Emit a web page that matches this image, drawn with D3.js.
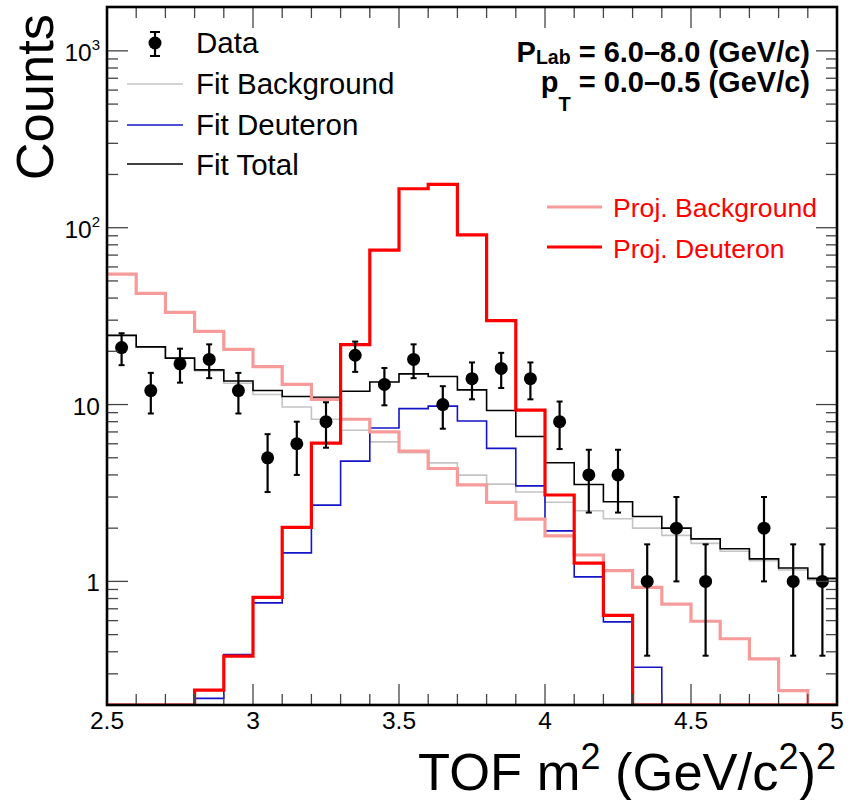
<!DOCTYPE html>
<html><head><meta charset="utf-8">
<script src="https://cdn.jsdelivr.net/npm/d3@7"></script>
<style>
body{margin:0;background:#fff}
svg{display:block}
text{font-family:"Liberation Sans",Arial,Helvetica,sans-serif}
</style>
</head><body>
<svg id="chart" width="854" height="800"></svg>
<script>
// ---- data ----
const binCenters = [2.55,2.65,2.75,2.85,2.95,3.05,3.15,3.25,3.35,3.45,3.55,3.65,3.75,3.85,3.95,4.05,4.15,4.25,4.35,4.45,4.55,4.65,4.75,4.85,4.95];
const binWidth = 0.1;
const dataCounts = [21,12,17,18,12,5,6,8,19,13,18,10,14,16,14,8,4,4,1,2,1,0,2,1,1];
const dataErrors = [4.3,3.1,3.7,3.9,3.1,1.8,2.0,2.3,3.7,3.1,3.9,2.7,3.3,3.6,3.3,2.4,1.55,1.55,0.62,1.0,0.62,0,1.0,0.62,0.62];
const fitBackground = [24.6,21.2,18.3,15.5,13.2,11.4,9.68,8.26,7.16,6.15,5.35,4.68,3.99,3.55,3.2,2.8,2.51,2.26,2.0,1.82,1.64,1.48,1.31,1.16,1.02];
const fitDeuteron = [0,0,0,0.218,0.386,0.756,1.45,2.70,4.79,7.37,9.48,9.8,8.07,5.65,3.47,1.93,1.06,0.59,0.327,0,0,0,0,0,0];
const fitTotal = [24.6,21.2,18.3,15.7,13.6,12.0,11.1,11.0,11.9,13.4,14.9,14.4,12.1,9.25,6.6,4.69,3.53,2.82,2.33,2.0,1.74,1.53,1.34,1.19,1.04];
const projBackground = [54.6,42.5,33.2,25.9,20.5,16.4,13.0,10.7,8.26,7.0,5.45,4.35,3.51,2.80,2.25,1.81,1.41,1.15,0.925,0.743,0.595,0.474,0.365,0.241,0.19];
const projDeuteron = [0,0,0,0.243,0.378,0.813,2.02,6.05,21.8,74.6,166,176,91,29.8,9.3,3.08,1.27,0.643,0,0,0,0,0,0,0];
const xTickValues = [2.5,3,3.5,4,4.5,5];
const xTickLabels = ["2.5","3","3.5","4","4.5","5"];
const yTickValues = [1,10,100,1000];
const yTickBase = ["1","10","10","10"];
const yTickExp = ["","","2","3"];
const xDomain = [2.5,5];
const yDomain = [0.2,1770];
const legendLeft = ["Data","Fit Background","Fit Deuteron","Fit Total"];
const legendRight = ["Proj. Background","Proj. Deuteron"];

// ---- layout / styles ----
const L=107, R=837, T=7, B=705;
const colors = {bg:"#c4c4c4", deut:"#1414c8", tot:"#000000", pbg:"#f79a9a", pd:"#ff0000"};

const svg = d3.select("#chart");
const x = d3.scaleLinear().domain(xDomain).range([L,R]);
const y = d3.scaleLog().domain(yDomain).range([B,T]);

svg.append("defs").append("clipPath").attr("id","plotclip")
  .append("rect").attr("x",L).attr("y",T).attr("width",R-L).attr("height",B-T);

const plot = svg.append("g").attr("clip-path","url(#plotclip)");

function stepPts(vals){
  const pts=[];
  binCenters.forEach((c,i)=>{
    const v=Math.max(vals[i], yDomain[0]);
    pts.push([c-binWidth/2, v],[c+binWidth/2, v]);
  });
  return pts;
}
const line = d3.line().x(d=>x(d[0])).y(d=>y(d[1]));

const series = [
  {vals:fitBackground, color:colors.bg, w:1.6},
  {vals:fitDeuteron, color:colors.deut, w:1.6},
  {vals:fitTotal, color:colors.tot, w:1.6},
  {vals:projBackground, color:colors.pbg, w:3.2},
  {vals:projDeuteron, color:colors.pd, w:3.2}
];
series.forEach(s=>{
  plot.append("path").attr("d", line(stepPts(s.vals)))
    .attr("fill","none").attr("stroke",s.color).attr("stroke-width",s.w)
    .attr("stroke-linejoin","miter");
});

// data points
const pts = binCenters.map((c,i)=>({c, v:dataCounts[i], e:dataErrors[i]})).filter(d=>d.v>0);
const dg = plot.append("g");
pts.forEach(d=>{
  const px=x(d.c), y1=y(Math.max(d.v+d.e,yDomain[0])), y0=y(Math.max(d.v-d.e,yDomain[0]));
  dg.append("line").attr("x1",px).attr("x2",px).attr("y1",y1).attr("y2",y0).attr("stroke","#000").attr("stroke-width",2.2);
  [y1,y0].forEach(yy=>dg.append("line").attr("x1",px-3).attr("x2",px+3).attr("y1",yy).attr("y2",yy).attr("stroke","#000").attr("stroke-width",2));
  dg.append("circle").attr("cx",px).attr("cy",y(d.v)).attr("r",6.5).attr("fill","#000");
});

// ---- ticks ----
const tk = svg.append("g").attr("stroke","#444").attr("stroke-width",1.3);
const xMinor = d3.range(25,51).map(v=>v/10);
xMinor.forEach(v=>{
  const major = xTickValues.some(t=>Math.abs(t-v)<1e-9);
  const len = major?21:11;
  tk.append("line").attr("x1",x(v)).attr("x2",x(v)).attr("y1",B).attr("y2",B-len);
  tk.append("line").attr("x1",x(v)).attr("x2",x(v)).attr("y1",T).attr("y2",T+len);
});
const yAll=[];
for(let k=-1;k<=3;k++){for(let m=1;m<=9;m++){const v=m*Math.pow(10,k); if(v>=yDomain[0]&&v<=yDomain[1]) yAll.push({v,major:m===1});}}
yAll.forEach(d=>{
  const len=d.major?21:11, yy=y(d.v);
  tk.append("line").attr("x1",L).attr("x2",L+len).attr("y1",yy).attr("y2",yy);
  tk.append("line").attr("x1",R).attr("x2",R-len).attr("y1",yy).attr("y2",yy);
});

// frame
svg.append("rect").attr("x",L).attr("y",T).attr("width",R-L).attr("height",B-T)
  .attr("fill","none").attr("stroke","#000").attr("stroke-width",2.6);

// tick labels
xTickValues.forEach((v,i)=>{
  svg.append("text").attr("x",x(v)).attr("y",729).attr("text-anchor","middle")
    .attr("font-size",24.5).text(xTickLabels[i]);
});
yTickValues.forEach((v,i)=>{
  const t = svg.append("text").attr("x",100).attr("y",y(v)+10).attr("text-anchor","end").attr("font-size",24.5);
  t.append("tspan").text(yTickBase[i]);
  if(yTickExp[i]) t.append("tspan").attr("dy",-11).attr("font-size",15).text(yTickExp[i]);
});

// axis titles
const xt = svg.append("text").attr("x",836).attr("y",790).attr("text-anchor","end").attr("font-size",52.5);
xt.append("tspan").text("TOF m");
xt.append("tspan").attr("dy",-21).attr("font-size",36).text("2");
xt.append("tspan").attr("dy",21).text(" (GeV/c");
xt.append("tspan").attr("dy",-21).attr("font-size",36).text("2");
xt.append("tspan").attr("dy",21).text(")");
xt.append("tspan").attr("dy",-21).attr("font-size",36).text("2");

svg.append("text").attr("transform","translate(53,14) rotate(-90)").attr("text-anchor","end")
  .attr("font-size",52.5).text("Counts");

// ---- left legend ----
const lg = svg.append("g");
lg.append("line").attr("x1",155).attr("x2",155).attr("y1",32).attr("y2",56).attr("stroke","#000").attr("stroke-width",2.2);
[32,56].forEach(yy=>lg.append("line").attr("x1",150).attr("x2",160).attr("y1",yy).attr("y2",yy).attr("stroke","#000").attr("stroke-width",2));
lg.append("circle").attr("cx",155).attr("cy",43).attr("r",6.5).attr("fill","#000");
lg.append("text").attr("x",196).attr("y",53).attr("font-size",29.5).text(legendLeft[0]);
const legLines = [{c:colors.bg,y:84,b:94},{c:colors.deut,y:125,b:135},{c:colors.tot,y:164,b:175}];
legLines.forEach((d,i)=>{
  lg.append("line").attr("x1",127).attr("x2",183).attr("y1",d.y).attr("y2",d.y).attr("stroke",d.c).attr("stroke-width",1.6);
  lg.append("text").attr("x",196).attr("y",d.b).attr("font-size",29.5).text(legendLeft[i+1]);
});

// ---- right legend ----
const rlines = [{c:colors.pbg,y:207,b:217},{c:colors.pd,y:247,b:258}];
rlines.forEach((d,i)=>{
  svg.append("line").attr("x1",547).attr("x2",602).attr("y1",d.y).attr("y2",d.y).attr("stroke",d.c).attr("stroke-width",3.2);
  svg.append("text").attr("x",613).attr("y",d.b).attr("font-size",26.6).attr("fill","#ff0000").text(legendRight[i]);
});

// ---- kinematic labels ----
const k1 = svg.append("text").attr("x",810).attr("y",62).attr("text-anchor","end").attr("font-size",29).attr("font-weight","bold");
k1.append("tspan").text("P");
k1.append("tspan").attr("dy",2).attr("font-size",19.5).text("Lab");
k1.append("tspan").attr("dy",-2).text(" = 6.0\u20138.0 (GeV/c)");
const k2 = svg.append("text").attr("x",810).attr("y",92).attr("text-anchor","end").attr("font-size",29).attr("font-weight","bold");
k2.append("tspan").text("p");
k2.append("tspan").attr("dy",19).attr("font-size",20).text("T");
k2.append("tspan").attr("dy",-19).text(" = 0.0\u20130.5 (GeV/c)");
</script>
</body></html>
